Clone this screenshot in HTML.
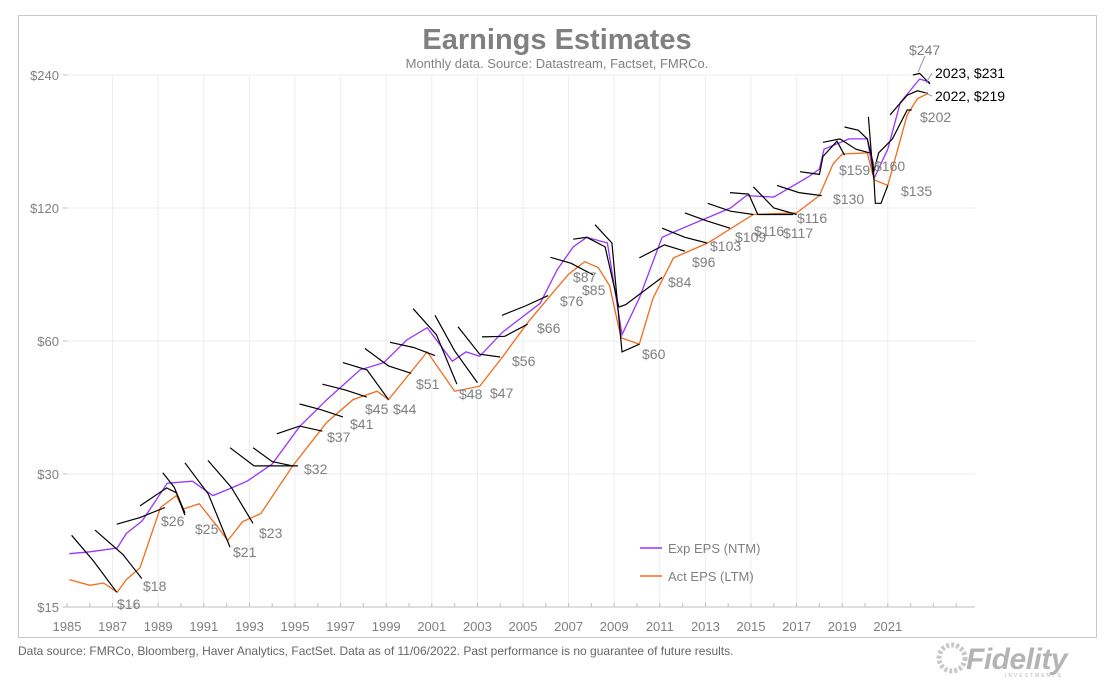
<!DOCTYPE html>
<html><head><meta charset="utf-8">
<style>
body{margin:0;background:#fff;width:1113px;height:690px;overflow:hidden;font-family:"Liberation Sans",Arial,sans-serif}
svg text{font-family:"Liberation Sans",Arial,sans-serif}
</style></head>
<body>
<svg id="chart" width="1113" height="690">
<rect x="18.5" y="15.5" width="1078" height="622" fill="#fff" stroke="#c8c8c8"/>
<text x="557" y="49" text-anchor="middle" font-size="29" font-weight="bold" fill="#808080">Earnings Estimates</text>
<text x="557" y="68" text-anchor="middle" font-size="13" fill="#808080">Monthly data.  Source: Datastream, Factset, FMRCo.</text>
<g id="grid"></g><g id="axes"></g>
<g id="series"></g><g id="labels"></g>
<g>
<line x1="640" y1="548" x2="662" y2="548" stroke="#9933ff" stroke-width="1.5"/>
<text x="668" y="553" font-size="13" fill="#808080">Exp EPS (NTM)</text>
<line x1="640" y1="576" x2="662" y2="576" stroke="#f26b1d" stroke-width="1.5"/>
<text x="668" y="581" font-size="13" fill="#808080">Act EPS (LTM)</text>
</g>
<text x="18" y="655" font-size="12" fill="#666">Data source: FMRCo, Bloomberg, Haver Analytics, FactSet. Data as of 11/06/2022. Past performance is no guarantee of future results.</text>
<g>
<circle cx="952" cy="658" r="13" fill="none" stroke="#c8c8c8" stroke-width="5" stroke-dasharray="3 2"/>
<text x="966" y="669" font-size="30" font-weight="bold" font-style="italic" fill="#b4b4b4" letter-spacing="-0.5">Fidelity</text>
<text x="1005" y="677" font-size="5" fill="#b4b4b4" letter-spacing="2">INVESTMENTS</text>
</g>
</svg>
<script>
const yTicks=[15,30,60,120,240];
const xTickYears=[1985,1987,1989,1991,1993,1995,1997,1999,2001,2003,2005,2007,2009,2011,2013,2015,2017,2019,2021];
const ntmT=[1985.1,1986,1987.2,1987.6,1988.3,1989.4,1990.5,1991.4,1992,1992.9,1994,1995.2,1996.4,1997.85,1998.9,1999.9,2000.8,2001.9,2002.5,2003.1,2004.1,2005.75,2006.5,2007.2,2007.8,2008.7,2009.34,2010.1,2011.1,2012,2014.1,2014.8,2016,2017.5,2018,2018.2,2019.3,2020.1,2020.4,2021,2021.55,2022.4,2022.85];
const ntmV=[19.8,20,20.4,22,23.5,28.6,28.9,26.8,27.6,28.9,31.6,38.4,44.2,51.6,53.6,60.3,64.3,54,56.7,55.4,62.8,73,87,98,103,100,62,75,103,108,120,128,127,141,147,163,172,172,140,163,208,235,231];
const ltmT=[1985.1,1986,1986.6,1987.2,1987.6,1988.2,1989.1,1989.8,1990.1,1990.8,1991.6,1992.05,1992.7,1993.5,1994.9,1996.4,1997.55,1998.6,1999.1,2000.8,2002,2003.1,2004.1,2005.2,2006.2,2007,2007.7,2008.3,2008.8,2009.3,2010.1,2010.7,2011.6,2013.1,2015.1,2017,2018,2018.6,2019,2020.1,2020.4,2021,2021.85,2022.3,2022.76];
const ltmV=[17.3,16.8,17,16.2,17.3,18.4,25.2,26.8,25,25.7,22.8,21.2,23.4,24.4,31.3,39.3,44.2,46.2,44.2,56.7,46.2,47.4,55.2,66,76,85,90.7,88,80,61,59,75,92.5,100,116,117,128,151,159,160,139,135,195,212,218];
const estT=[
[1985.2,1986.15,1987.18],[1986.23,1987.46,1988.28],[1987.18,1988.2,1989.3],[1988.2,1989.37,1989.8,1990.17],
[1989.2,1989.7,1990.17],[1990.17,1991.2,1992.15],[1991.18,1992.2,1993.16],[1992.15,1993.2,1995.13],[1993.16,1994.0,1994.9],
[1994.2,1995.2,1996.2],[1995.2,1996.1,1997.1],[1996.2,1997.2,1998.15],[1997.1,1998.16,1999.1],[1998.07,1999.1,2000.1],
[1999.17,2000.2,2001.14],[2000.18,2001.2,2002.1],[2001.14,2002.0,2003.0],[2002.15,2003.1,2004.0],[2003.2,2004.2,2005.2],
[2004.08,2005.1,2006.1],[2006.2,2007.1,2008.07],[2007.2,2007.8,2008.6,2009.2],[2008.16,2008.9,2009.34,2010.1],[2009.2,2009.5,2011.1],
[2010.1,2011.2,2012.1],[2011.1,2012.1,2013.07],[2012.1,2013.1,2014.08],[2013.1,2014.1,2015.1],[2014.08,2014.9,2015.3,2016.85],
[2015.1,2016.0,2017.0],[2016.14,2017.1,2018.1],[2017.15,2018.0,2018.16,2018.77,2019.1],[2018.16,2018.9,2019.6,2020.2],
[2019.1,2019.7,2020.1,2020.35,2020.45,2020.7,2021.0],[2020.15,2020.35,2020.6,2021.2,2021.85,2022.05],[2021.1,2021.85,2022.3,2022.76],[2022.1,2022.4,2022.85]];
const estV=[
[21.8,19.1,16.2],[22.4,19.7,17.4],[23.1,23.9,25.2],[25.4,27.9,27.2,24.2],
[30.2,28,24.5],[31.8,27,20.5],[32.2,28,23.2],[34.4,31.3,31.3],[34.4,32,31.3],
[37,38.5,37.5],[43.2,42,40.4],[47.9,46.5,44.8],[53.6,51.6,44.2],[57.7,52.7,50.7],
[59.6,58,55.6],[71,62,47.9],[68.6,57,48.3],[64.6,56,55.2],[61.3,61.5,65.5],
[68.6,72,76],[92.8,90,84.7],[102,103,98,71.6],[110,100,56.7,59],[71.6,72.5,83.6],
[92.5,99,95.8],[108,103,100],[117,112,108],[123,118,116],[130,129,116,116],
[134,120,116],[135,130,128],[145,143,157,170,158],[169,172,163,160],
[183,180,172,152,123,123,135],[193,143,160,172,200,200],[195,216,221,218],[240,242,229]];
const labT=[[117,604,"$16"],[143,586,"$18"],[161,521,"$26"],[195,529,"$25"],[233,552,"$21"],[259,533,"$23"],[304,469,"$32"],[327,437,"$37"],[350,424,"$41"],[365,409,"$45"],[393,409,"$44"],[416,384,"$51"],[459,394,"$48"],[490,393,"$47"],[512,361,"$56"],[537,328,"$66"],[560,301,"$76"],[573,277,"$87"],[582,290,"$85"],[642,354,"$60"],[668,282,"$84"],[692,262,"$96"],[710,246,"$103"],[735,237,"$109"],[754,231,"$116"],[783,233,"$117"],[797,218,"$116"],[833,199,"$130"],[839,170,"$159"],[874,166,"$160"],[901,191,"$135"],[920,117,"$202"],[909,50,"$247"]];
const X0=67,PX=22.8,Y15=607,PD=133;
function x(t){return X0+PX*(t-1985);}
function y(v){return Y15-PD*Math.log2(v/15);}
const NS="http://www.w3.org/2000/svg";
function mk(tag,attrs,parent){const e=document.createElementNS(NS,tag);for(const k in attrs)e.setAttribute(k,attrs[k]);document.getElementById(parent).appendChild(e);return e;}
for(const v of yTicks){
 if(v>15){const g=mk('line',{x1:X0,x2:975,y1:y(v),y2:y(v),stroke:'#ececec'},'grid');
 
 }
 const tk=mk('line',{x1:X0-4,x2:X0,y1:y(v),y2:y(v),stroke:'#bfbfbf'},'axes');
 
 
 const t=mk('text',{x:X0-8,y:y(v)+5,'text-anchor':'end','font-size':13,fill:'#7f7f7f'},'axes');
 t.textContent='$'+v;
 
 
}
for(const yr of xTickYears){
 if(yr>1985){const g=mk('line',{x1:x(yr),x2:x(yr),y1:76,y2:Y15,stroke:'#ececec'},'grid');
 
 }
 const t=mk('text',{x:x(yr),y:631,'text-anchor':'middle','font-size':13,fill:'#7f7f7f'},'axes');
 t.textContent=yr;
 
 
}
for(let yr=1985;yr<=2024;yr++){
 const tk=mk('line',{x1:x(yr),x2:x(yr),y1:Y15,y2:Y15-4,stroke:'#bfbfbf'},'axes');
 
 
}
const ax=mk('line',{x1:X0,x2:975,y1:Y15,y2:Y15,stroke:'#bfbfbf'},'axes');


function path(ts,vs){return ts.map((t,i)=>(i?'L':'M')+x(t).toFixed(1)+','+y(vs[i]).toFixed(1)).join('');}
const pn=mk('path',{d:path(ntmT,ntmV),fill:'none',stroke:'#9933ff','stroke-width':1.3},'series');


const pl=mk('path',{d:path(ltmT,ltmV),fill:'none',stroke:'#f26b1d','stroke-width':1.3},'series');


estT.forEach((ts,i)=>{
 const p=mk('path',{d:path(ts,estV[i]),fill:'none',stroke:'#000','stroke-width':1.2},'series');
 
 
});
for(const l of labT){
 const t=mk('text',{x:l[0],y:l[1]+5,'font-size':14,fill:'#7f7f7f'},'labels');
 t.textContent=l[2];
 
 
}
const ld=[[935,78,'2023, $231'],[935,101,'2022, $219']];
for(const l of ld){
 const t=mk('text',{x:l[0],y:l[1],'font-size':14,fill:'#000'},'labels');
 t.textContent=l[2];
 
 
}
const lead=[[925,56,918,72],[932,73,926,83],[932,96,925,93]];
for(const l of lead){
 const e=mk('line',{x1:l[0],y1:l[1],x2:l[2],y2:l[3],stroke:'#999'},'labels');
 
 
}
</script>
</body></html>
